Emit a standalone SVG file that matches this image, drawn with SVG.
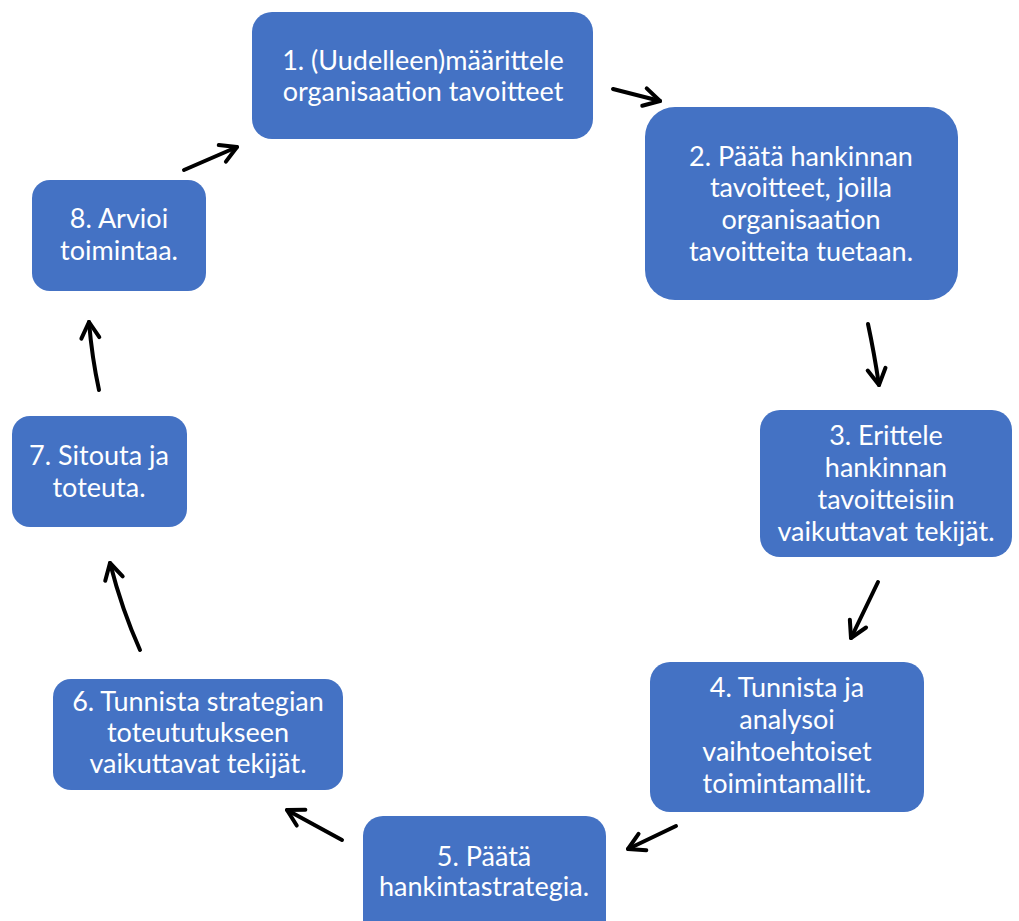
<svg xmlns="http://www.w3.org/2000/svg" width="1019" height="921" viewBox="0 0 1019 921">
<style>
.box{fill:#4472C4;}
.t{font-family:Lato,"Noto Sans",sans-serif;font-size:27px;fill:#ffffff;text-anchor:middle;}
.arr{fill:none;stroke:#000;stroke-width:4;stroke-linecap:round;stroke-linejoin:round;marker-end:url(#ah);}
</style>
<defs>
<marker id="ah" viewBox="0 0 24 24" refX="20" refY="12" markerWidth="24" markerHeight="24" markerUnits="userSpaceOnUse" orient="auto">
<path d="M4,3 L20,12 L4,21" fill="none" stroke="#000" stroke-width="4" stroke-linecap="round" stroke-linejoin="round"/>
</marker>
</defs>
<rect width="1019" height="921" fill="#ffffff"/>
<g id="n1"><rect class="box" x="252" y="12" width="341" height="127" rx="20"/>
<text class="t" x="423" y="70">1. (Uudelleen)määrittele</text><text class="t" x="423" y="101">organisaation tavoitteet</text></g>
<g id="n2"><rect class="box" x="645" y="107" width="313" height="193" rx="30"/>
<text class="t" x="801" y="166">2. Päätä hankinnan</text><text class="t" x="801" y="197">tavoitteet, joilla</text><text class="t" x="801" y="229">organisaation</text><text class="t" x="801" y="261">tavoitteita tuetaan.</text></g>
<g id="n3"><rect class="box" x="760" y="410" width="252" height="147" rx="20"/>
<text class="t" x="886" y="445">3. Erittele</text><text class="t" x="886" y="477">hankinnan</text><text class="t" x="886" y="509">tavoitteisiin</text><text class="t" x="886" y="541">vaikuttavat tekijät.</text></g>
<g id="n4"><rect class="box" x="650" y="662" width="274" height="150" rx="20"/>
<text class="t" x="787" y="697">4. Tunnista ja</text><text class="t" x="787" y="729">analysoi</text><text class="t" x="787" y="761">vaihtoehtoiset</text><text class="t" x="787" y="793">toimintamallit.</text></g>
<g id="n5"><rect class="box" x="363" y="816" width="243" height="125" rx="20"/>
<text class="t" x="484" y="866">5. Päätä</text><text class="t" x="484" y="896">hankintastrategia.</text></g>
<g id="n6"><rect class="box" x="53" y="679" width="290" height="111" rx="18"/>
<text class="t" x="198" y="711">6. Tunnista strategian</text><text class="t" x="198" y="742">toteututukseen</text><text class="t" x="198" y="773">vaikuttavat tekijät.</text></g>
<g id="n7"><rect class="box" x="12" y="416" width="175" height="111" rx="18"/>
<text class="t" x="99" y="465">7. Sitouta ja</text><text class="t" x="99" y="497">toteuta.</text></g>
<g id="n8"><rect class="box" x="32" y="180" width="174" height="111" rx="18"/>
<text class="t" x="119" y="228">8. Arvioi</text><text class="t" x="119" y="260">toimintaa.</text></g>
<g id="connectors">
<path class="arr" d="M613,89 L660,101"/>
<path class="arr" d="M868,324 Q874,352 879,385"/>
<path class="arr" d="M878,582 L851,638"/>
<path class="arr" d="M676,826 L628,849"/>
<path class="arr" d="M342,840 L287,810"/>
<path class="arr" d="M140,650 Q122,610 110,563"/>
<path class="arr" d="M99,390 Q92,358 89,322"/>
<path class="arr" d="M184,170 L237,147"/>
</g>
</svg>
